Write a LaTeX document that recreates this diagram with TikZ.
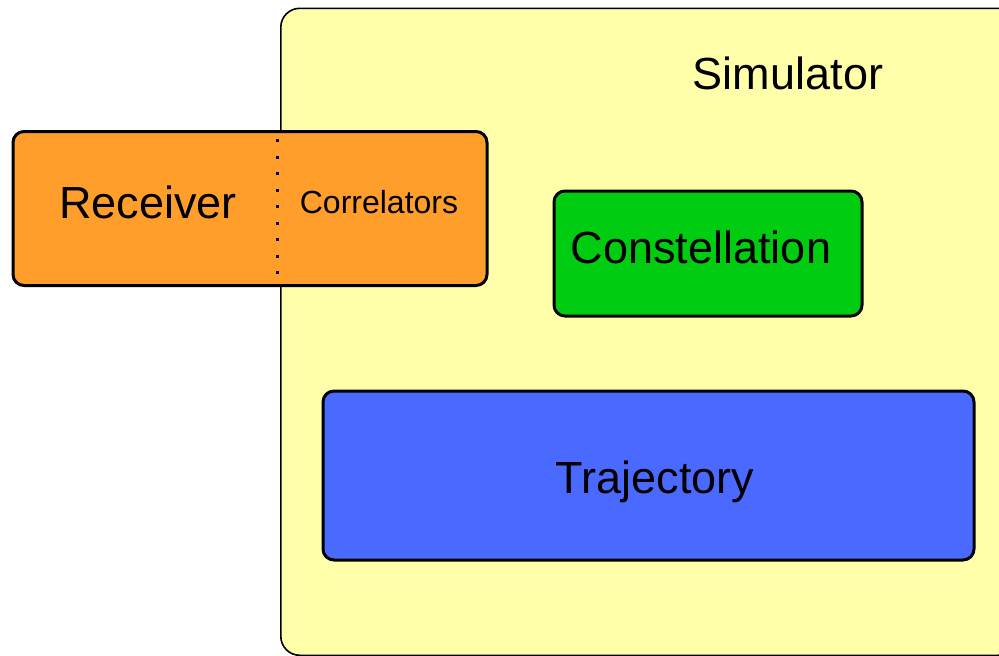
\documentclass[tikz,border=0pt]{standalone}
\usepackage{fontspec}
\setmainfont{Liberation Sans}
\definecolor{simyellow}{HTML}{FFFFAA}
\definecolor{recorange}{HTML}{FF9E2A}
\definecolor{constgreen}{HTML}{00CC12}
\definecolor{trajblue}{HTML}{4A69FF}
\begin{document}
\begin{tikzpicture}[x=1pt,y=-1pt,
  box/.style={draw=black, line width=3pt, rounded corners=11pt, inner sep=0pt, anchor=north west},
  big/.style={font=\fontsize{45}{54}\selectfont, anchor=base, inner sep=0pt},
  small/.style={font=\fontsize{32}{38}\selectfont, anchor=base, inner sep=0pt}]
\useasboundingbox (0,0) rectangle (999,656);
\begin{scope}
\clip (0,0) rectangle (999,656);
\node[draw=black, line width=1.6pt, fill=simyellow, rounded corners=19pt, inner sep=0pt, anchor=north west,
  minimum width=736pt, minimum height=647pt] (sim) at (280,7.5) {};
\end{scope}
\node[big] (simt) at (788,89) {Simulator};
\node[box, fill=recorange, minimum width=474pt, minimum height=154pt] (rec) at (11.5,130) {};
\coordinate (dtop) at (277,139);
\coordinate (dbot) at (277,287);
\draw[line width=3pt, dash pattern=on 3pt off 13.5pt] (dtop) -- (dbot);
\node[big] (rect) at (148,218) {Receiver};
\node[small] (cort) at (379,213) {Correlators};
\node[box, fill=constgreen, minimum width=308pt, minimum height=125pt] (con) at (552.5,189.5) {};
\node[big] (cont) at (701,263) {Constellation};
\node[box, fill=trajblue, minimum width=651pt, minimum height=169pt] (traj) at (321.5,389.5) {};
\node[big] (trajt) at (655,493) {Trajectory};
\end{tikzpicture}
\end{document}
